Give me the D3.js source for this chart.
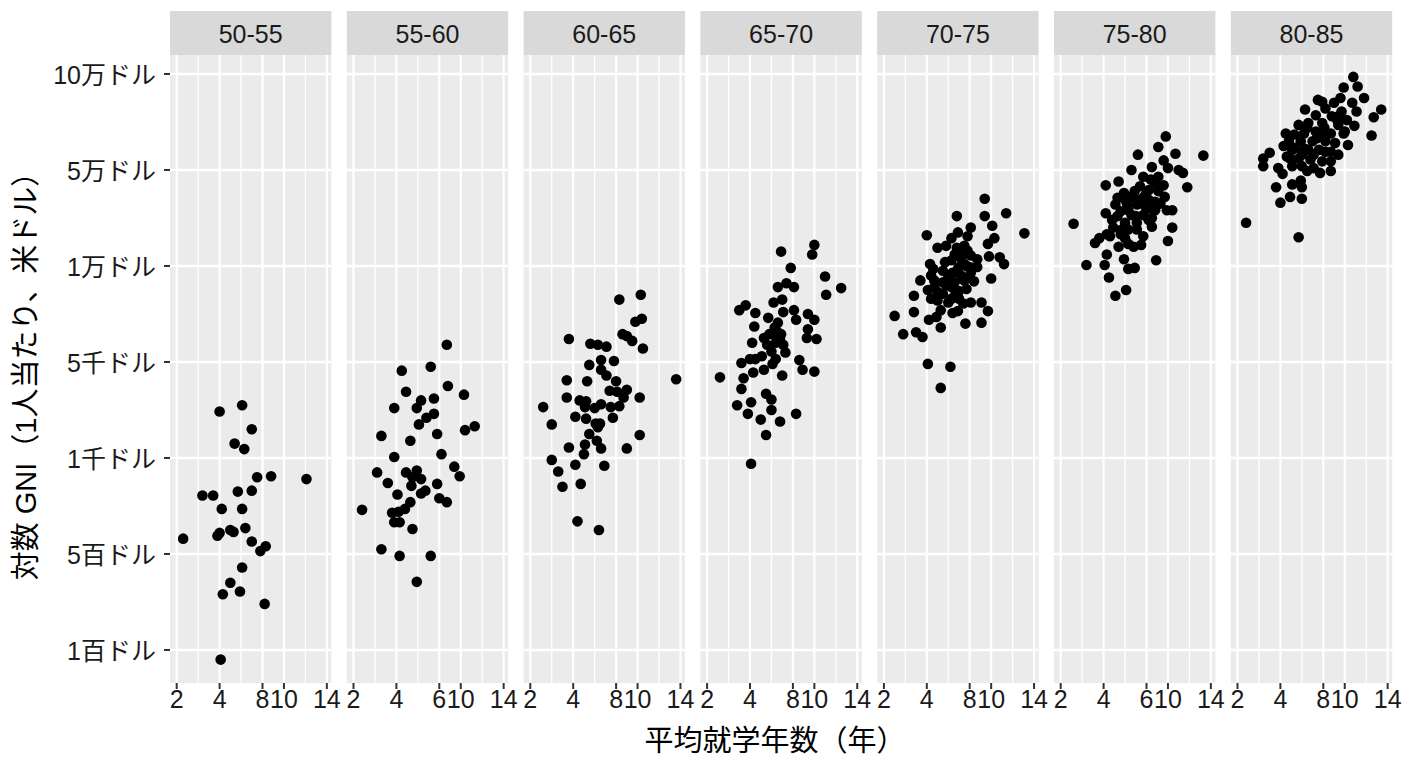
<!DOCTYPE html>
<html>
<head>
<meta charset="utf-8">
<script src="https://cdn.jsdelivr.net/npm/d3@7"></script>
<style>
body { margin: 0; background: #fff; }
text { font-family: "Liberation Sans", "Noto Sans CJK JP", sans-serif; }
</style>
</head>
<body>
<svg id="chart" width="1408" height="768"></svg>
<script>
// facet labels (life expectancy bands)
const periods = ["50-55", "55-60", "60-65", "65-70", "70-75", "75-80", "80-85"];

// x axis: mean years of schooling
const xTicks = [2, 4, 8, 10, 14];
const xMinor = [3, 6, 12];
const xTickLabels = ["2", "4", "8", "10", "14"];
const xTickLabelsAlt = ["2", "4", "6", "10", "14"];
const altPanels = ["55-60", "75-80"];

// y axis: GNI per capita (USD)
const yTicks = [100, 500, 1000, 5000, 10000, 50000, 100000];
const yTickLabels = ["1百ドル", "5百ドル", "1千ドル", "5千ドル", "1万ドル", "5万ドル", "10万ドル"];

// data per panel
const edu_50_55 = [4.0, 6.1, 7.0, 5.4, 6.3, 7.5, 8.8, 12.1, 3.2, 3.7, 5.7, 7.0, 4.2, 6.1, 2.3, 3.9, 4.0, 5.0, 5.3, 6.4, 7.0, 7.8, 8.3, 6.1, 5.0, 4.3, 5.9, 8.2, 4.1];
const gni_50_55 = [2940, 3200, 2200, 1600, 1370, 900, 905, 890, 805, 805, 825, 830, 735, 735, 580, 595, 610, 625, 615, 635, 565, 515, 540, 444, 380, 332, 344, 292, 60];

const edu_55_60 = [8.7, 4.5, 7.2, 8.8, 10.3, 4.9, 6.3, 7.5, 5.9, 3.9, 6.8, 7.5, 6.1, 7.8, 10.4, 11.3, 3.3, 5.3, 3.9, 8.2, 3.1, 4.9, 5.9, 5.5, 6.3, 9.4, 9.9, 3.6, 5.4, 7.8, 4.1, 6.3, 6.7, 8.0, 8.7, 5.3, 2.4, 3.8, 4.8, 3.9, 4.3, 5.5, 3.3, 4.3, 7.2, 5.9, 4.2];
const gni_55_60 = [5900, 4640, 4800, 4000, 3640, 3760, 3400, 3480, 3080, 3080, 2680, 2840, 2400, 2000, 2160, 2320, 1920, 1720, 1040, 1160, 925, 925, 935, 900, 890, 955, 905, 870, 855, 865, 810, 815, 830, 790, 770, 770, 730, 715, 735, 665, 665, 630, 525, 492, 492, 384, 720];

const edu_60_65 = [8.3, 10.3, 9.8, 10.4, 8.6, 9.0, 9.5, 10.5, 3.8, 5.6, 6.3, 7.1, 6.6, 7.8, 5.5, 6.6, 7.1, 3.7, 5.3, 8.0, 13.6, 7.4, 8.1, 9.0, 8.7, 3.7, 10.2, 4.6, 5.2, 5.1, 6.0, 6.6, 7.5, 8.3, 2.6, 4.2, 5.2, 7.7, 3.0, 6.1, 6.3, 6.5, 5.5, 10.2, 6.2, 3.8, 5.1, 6.6, 9.0, 5.0, 3.0, 4.2, 6.9, 3.3, 3.5, 4.7, 4.4, 6.4];
const gni_60_65 = [8250, 8500, 7100, 7250, 6450, 6350, 6100, 5700, 6200, 5950, 5900, 5800, 5100, 5050, 4880, 4680, 4440, 4240, 4200, 4200, 4280, 3800, 3760, 3840, 3520, 3520, 3520, 3400, 3360, 3120, 3080, 3240, 3120, 3160, 3120, 2720, 2640, 2680, 2400, 2440, 2280, 2440, 2000, 1960, 1720, 1440, 1560, 1400, 1400, 1160, 990, 965, 960, 930, 850, 865, 670, 625];

const edu_65_70 = [6.9, 10.0, 9.8, 7.8, 11.0, 12.5, 11.1, 6.6, 7.4, 8.1, 6.2, 7.0, 3.5, 3.8, 4.5, 5.7, 7.1, 8.1, 8.3, 9.4, 10.0, 6.6, 6.3, 4.4, 9.4, 6.2, 5.3, 6.9, 9.3, 10.2, 4.2, 5.6, 6.4, 7.1, 6.0, 7.3, 5.1, 4.0, 4.5, 6.4, 3.6, 6.1, 8.6, 4.3, 5.3, 8.9, 10.0, 2.6, 3.7, 7.0, 3.6, 5.5, 6.0, 3.4, 4.1, 6.0, 3.9, 5.0, 6.8, 8.3, 5.5, 4.1, 6.5, 6.8, 5.8];
const gni_65_70 = [16000, 18800, 14800, 9900, 9450, 8850, 8500, 8900, 9100, 8900, 8100, 8250, 7700, 7950, 7550, 7300, 7600, 7700, 7200, 7500, 7200, 7050, 6800, 6850, 6700, 6450, 6250, 6450, 6250, 6200, 6000, 5900, 6000, 5900, 5550, 5500, 5300, 5150, 5150, 5150, 4960, 4920, 5100, 4560, 4680, 4680, 4600, 4360, 4320, 4440, 3880, 3680, 3440, 3200, 3320, 3000, 2840, 2600, 2520, 2840, 1960, 970, 6600, 6200, 6450];

const edu_70_75 = [9.4, 11.4, 6.8, 9.4, 13.1, 4.0, 10.1, 8.1, 6.9, 6.3, 7.8, 10.3, 9.7, 5.0, 5.8, 6.8, 7.8, 9.8, 10.8, 11.2, 6.3, 7.2, 8.7, 8.1, 4.3, 4.6, 5.5, 6.9, 7.7, 8.1, 7.2, 6.4, 10.0, 8.4, 3.7, 4.7, 6.1, 7.5, 4.1, 5.0, 6.3, 7.0, 3.4, 4.4, 5.5, 6.0, 7.0, 8.1, 9.1, 9.7, 3.4, 5.3, 6.4, 6.9, 2.5, 4.2, 4.9, 5.3, 7.6, 9.1, 2.9, 3.5, 3.8, 4.1, 6.2, 5.3, 7.5, 8.0, 7.4, 5.7, 4.7, 5.8,
    6.6, 7.5, 7.0, 8.0, 6.6, 5.5, 4.4, 7.7, 6.7, 6.0, 8.7, 5.0, 6.3, 7.4];
const gni_70_75 = [38000, 32000, 30800, 30800, 23600, 22800, 26800, 26000, 24000, 21600, 22400, 21600, 19200, 17600, 18400, 17600, 16400, 14000, 13600, 10800, 12400, 13200, 12800, 14400, 10800, 9850, 9750, 9850, 10000, 9650, 9500, 9650, 9350, 9200, 9250, 9250, 9150, 9250, 8750, 8650, 8900, 8700, 8450, 8300, 8550, 8100, 8300, 8100, 8100, 7650, 7600, 7700, 7550, 7650, 7400, 7200, 7350, 6800, 7000, 7050, 6450, 6550, 6300, 4920, 4800, 3920, 10800, 9950, 15600, 11600, 8900, 9000,
    14800, 18400, 9950, 9400, 9150, 9150, 9500, 8800, 8650, 9500, 9950, 8200, 8300, 8050];

const edu_75_80 = [9.8, 9.1, 7.2, 13.3, 10.7, 9.6, 6.6, 8.5, 10.0, 11.0, 11.4, 11.8, 4.2, 5.4, 7.7, 8.4, 9.6, 7.4, 8.2, 9.1, 5.9, 6.6, 5.3, 7.7, 8.8, 5.1, 6.2, 7.1, 8.2, 9.3, 4.2, 5.6, 6.6, 7.7, 9.9, 10.4, 8.5, 2.6, 4.8, 6.0, 7.1, 8.5, 10.4, 4.9, 6.3, 4.3, 5.6, 3.8, 4.6, 7.7, 6.0, 3.6, 6.3, 7.5, 10.0, 5.4, 6.8, 4.3, 3.2, 4.1, 5.9, 8.9, 6.3, 6.9, 4.5, 6.1, 5.1, 7.9, 6.9, 8.8,
    7.3, 6.3, 8.2, 8.8, 6.0, 7.0, 5.3, 7.9, 9.1, 9.7, 7.1, 5.7, 8.2];
const gni_75_80 = [67500, 62000, 58000, 57500, 58500, 55000, 50000, 51500, 51000, 50000, 48800, 42800, 43600, 45200, 47200, 46000, 43600, 43200, 41600, 41200, 40400, 38800, 38400, 38400, 36800, 35600, 35600, 35600, 34000, 36000, 32000, 32800, 31200, 31200, 33200, 33200, 30000, 27600, 29200, 28000, 28000, 26400, 26000, 26000, 25200, 23200, 23200, 21600, 22400, 22400, 21600, 19600, 19200, 18800, 20400, 18000, 18000, 14800, 10400, 10400, 12800, 12400, 9850, 9900, 9400, 8750, 8450, 39600, 41200, 44400,
    37600, 33200, 37600, 33200, 37600, 30800, 30800, 34800, 47200, 38800, 25200, 25200, 29200];

const edu_80_85 = [10.8, 9.9, 11.2, 11.8, 7.5, 9.0, 10.7, 13.4, 6.3, 8.2, 9.7, 11.1, 12.7, 7.3, 8.8, 10.2, 5.7, 6.6, 7.9, 9.4, 10.9, 12.5, 4.5, 6.2, 7.3, 8.7, 9.9, 4.8, 5.9, 7.0, 8.2, 9.1, 10.3, 5.1, 6.3, 7.6, 8.7, 3.5, 3.2, 3.2, 4.6, 5.7, 6.8, 7.9, 3.9, 5.1, 6.5, 7.7, 8.7, 4.2, 5.1, 5.9, 6.0, 3.8, 4.9, 6.0, 4.0, 2.4, 5.7, 5.4, 7.4, 6.5, 9.3, 8.1, 6.0, 7.1,
    7.9, 9.6, 9.4, 5.3, 7.9, 6.6, 7.1, 6.0, 8.2, 9.4, 4.3, 4.9, 8.7, 10.0];
const gni_80_85 = [98500, 93000, 93500, 87500, 86500, 85000, 85000, 81500, 81500, 82000, 80500, 80500, 77500, 78500, 78000, 76000, 73500, 74500, 74500, 73500, 73000, 68000, 69000, 69000, 70000, 69000, 69000, 65000, 65000, 65000, 65000, 64000, 63000, 60500, 61000, 60500, 59500, 59000, 56000, 52000, 57000, 56000, 55500, 54500, 51000, 52000, 49600, 48800, 49600, 48400, 44000, 45600, 42800, 42800, 38800, 38000, 36400, 28000, 22000, 61500, 66500, 72000, 76000, 72000, 52000, 51000,
    85500, 87500, 78000, 68500, 69000, 60500, 58000, 58000, 59500, 58000, 62500, 56000, 54500, 70000];

const eduByPanel = [edu_50_55, edu_55_60, edu_60_65, edu_65_70, edu_70_75, edu_75_80, edu_80_85];
const gniByPanel = [gni_50_55, gni_55_60, gni_60_65, gni_65_70, gni_70_75, gni_75_80, gni_80_85];

const svg = d3.select("#chart");

const plotTop = 55, plotBottom = 683;
const firstLeft = 170, pitch = 176.8, panelW = 161.4;
const xPad = 6.7, xStep = 21.45;
const stripTop = 11;
const font = 25;

// y scale: labelled breaks are evenly spaced on the axis
const y = d3.scaleLinear()
    .domain(yTicks)
    .range(d3.range(yTicks.length).map(i => 650 - 96 * i));

// y axis ticks + labels
const yAxis = svg.append("g");
yAxis.selectAll("line")
    .data(yTicks)
    .join("line")
    .attr("x1", firstLeft - 6).attr("x2", firstLeft)
    .attr("y1", d => y(d)).attr("y2", d => y(d))
    .attr("stroke", "#333").attr("stroke-width", 2);
yAxis.selectAll("text")
    .data(yTicks)
    .join("text")
    .attr("x", firstLeft - 14)
    .attr("y", d => y(d) + 1)
    .attr("text-anchor", "end")
    .attr("dominant-baseline", "central")
    .attr("font-size", font)
    .attr("fill", "#1a1a1a")
    .text((d, i) => yTickLabels[i]);

periods.forEach((period, k) => {
    const left = firstLeft + k * pitch;
    const x0 = left + xPad;
    const x = d3.scaleLinear()
        .domain(xTicks)
        .range([x0, x0 + 2 * xStep, x0 + 4 * xStep, x0 + 5 * xStep, x0 + 7 * xStep]);

    const g = svg.append("g");

    g.append("rect")
        .attr("x", left).attr("y", plotTop)
        .attr("width", panelW).attr("height", plotBottom - plotTop)
        .attr("fill", "#EBEBEB");

    // minor vertical grid
    g.selectAll("line.minor")
        .data(xMinor)
        .join("line")
        .attr("class", "minor")
        .attr("x1", d => x(d)).attr("x2", d => x(d))
        .attr("y1", plotTop).attr("y2", plotBottom)
        .attr("stroke", "#fff").attr("stroke-width", 1.3);

    // major vertical grid
    g.selectAll("line.vmajor")
        .data(xTicks)
        .join("line")
        .attr("class", "vmajor")
        .attr("x1", d => x(d)).attr("x2", d => x(d))
        .attr("y1", plotTop).attr("y2", plotBottom)
        .attr("stroke", "#fff").attr("stroke-width", 2.2);

    // horizontal grid
    g.selectAll("line.hmajor")
        .data(yTicks)
        .join("line")
        .attr("class", "hmajor")
        .attr("x1", left).attr("x2", left + panelW)
        .attr("y1", d => y(d)).attr("y2", d => y(d))
        .attr("stroke", "#fff").attr("stroke-width", 2.4);

    const pts = eduByPanel[k].map((e, i) => ({ edu: e, gni: gniByPanel[k][i] }));
    g.selectAll("circle")
        .data(pts)
        .join("circle")
        .attr("cx", d => x(d.edu))
        .attr("cy", d => y(d.gni))
        .attr("r", 5.3)
        .attr("fill", "#000");

    // strip
    g.append("rect")
        .attr("x", left).attr("y", stripTop)
        .attr("width", panelW).attr("height", plotTop - stripTop)
        .attr("fill", "#D9D9D9");
    g.append("text")
        .attr("x", left + panelW / 2)
        .attr("y", (stripTop + plotTop) / 2 + 1)
        .attr("text-anchor", "middle")
        .attr("dominant-baseline", "central")
        .attr("font-size", font)
        .attr("fill", "#1a1a1a")
        .text(period);

    // x axis ticks + labels
    const labels = altPanels.includes(period) ? xTickLabelsAlt : xTickLabels;
    g.selectAll("line.xtick")
        .data(xTicks)
        .join("line")
        .attr("class", "xtick")
        .attr("x1", d => x(d)).attr("x2", d => x(d))
        .attr("y1", plotBottom).attr("y2", plotBottom + 6)
        .attr("stroke", "#333").attr("stroke-width", 2);
    g.selectAll("text.xlab")
        .data(xTicks)
        .join("text")
        .attr("class", "xlab")
        .attr("x", d => x(d))
        .attr("y", 708)
        .attr("text-anchor", "middle")
        .attr("font-size", font)
        .attr("fill", "#1a1a1a")
        .text((d, i) => labels[i]);
});

// axis titles
svg.append("text")
    .attr("x", 775)
    .attr("y", 751)
    .attr("text-anchor", "middle")
    .attr("font-size", 29)
    .attr("fill", "#000")
    .text("平均就学年数（年）");

svg.append("text")
    .attr("transform", `translate(26,${(plotTop + plotBottom) / 2}) rotate(-90)`)
    .attr("text-anchor", "middle")
    .attr("dominant-baseline", "central")
    .attr("font-size", 29)
    .attr("fill", "#000")
    .text("対数 GNI（1人当たり、米ドル）");
</script>
</body>
</html>
